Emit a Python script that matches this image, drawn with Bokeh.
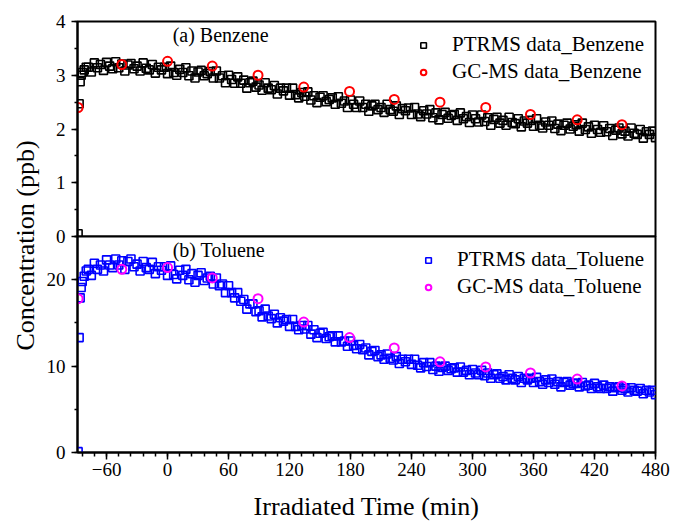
import math
from bokeh.plotting import figure
from bokeh.layouts import row, column
from bokeh.models import Label, SingleIntervalTicker, FixedTicker, Range1d
from bokeh.embed import file_html
from bokeh.resources import INLINE

FONT = "Liberation Serif"

# ---------------- data ----------------
# PTR-MS sampling times (min): a few fast samples at the start, then every 3 min
ptr_time = [-88, -87, -86, -85, -84, -82, -80] + list(range(-78, 481, 3))

ptr_benzene = [
    0.05, 2.47, 2.88, 3.00, 3.05, 3.10, 3.15,
    3.15, 3.06, 3.23, 3.14, 3.20, 3.09, 3.24, 3.17, 3.12, 3.25, 3.14, 3.21, 3.08, 3.19, 3.22, 3.12, 3.17, 3.08, 3.23, 3.13,
    3.10, 3.20, 3.04, 3.15, 3.10, 3.15, 3.03, 3.17, 3.05, 3.00, 3.11, 3.05, 3.14, 2.99, 3.08, 2.95, 3.06, 3.09, 2.99, 3.03,
    3.07, 2.95, 3.08, 2.95, 2.99, 2.86, 3.00, 2.92, 2.85, 2.97, 2.85, 2.91, 2.76, 2.86, 2.89, 2.78, 2.82, 2.72, 2.86, 2.76,
    2.73, 2.81, 2.65, 2.76, 2.71, 2.76, 2.63, 2.76, 2.64, 2.58, 2.68, 2.61, 2.69, 2.54, 2.62, 2.49, 2.59, 2.62, 2.51, 2.55,
    2.58, 2.46, 2.60, 2.48, 2.52, 2.40, 2.54, 2.46, 2.40, 2.52, 2.40, 2.46, 2.33, 2.43, 2.46, 2.36, 2.40, 2.31, 2.46, 2.36,
    2.33, 2.43, 2.27, 2.38, 2.34, 2.39, 2.27, 2.40, 2.28, 2.23, 2.34, 2.28, 2.36, 2.21, 2.30, 2.17, 2.27, 2.31, 2.20, 2.25,
    2.27, 2.16, 2.30, 2.19, 2.23, 2.12, 2.26, 2.19, 2.13, 2.26, 2.14, 2.21, 2.07, 2.18, 2.22, 2.11, 2.16, 2.07, 2.22, 2.12,
    2.10, 2.19, 2.04, 2.15, 2.11, 2.16, 2.05, 2.19, 2.07, 2.02, 2.13, 2.07, 2.15, 2.01, 2.09, 1.97, 2.07, 2.11, 2.00, 2.05,
    2.08, 1.96, 2.11, 1.99, 2.04, 1.92, 2.07, 1.99, 1.94, 2.06, 1.95, 2.01, 1.88, 1.98, 2.02, 1.91, 1.96, 1.87, 2.02, 1.92,
    1.90, 1.99, 1.83, 1.95, 1.90, 1.96, 1.84]

ptr_toluene = [
    0.1, 13.3, 17.9, 19.1, 19.8, 20.4, 21.0,
    21.2, 20.5, 21.9, 21.2, 21.7, 21.0, 22.3, 21.7, 21.4, 22.4, 21.7, 22.2, 21.2, 22.1, 22.4, 21.5, 21.8, 21.0, 22.1, 21.4,
    21.2, 22.0, 20.7, 21.5, 21.1, 21.5, 20.5, 21.6, 20.6, 20.1, 21.1, 20.5, 21.2, 20.0, 20.7, 19.7, 20.5, 20.8, 19.9, 20.2,
    20.4, 19.5, 20.2, 19.3, 19.5, 18.5, 19.3, 18.5, 17.9, 18.5, 17.5, 17.7, 16.6, 17.2, 17.2, 16.3, 16.4, 15.7, 16.6, 15.8,
    15.5, 16.0, 15.0, 15.6, 15.2, 15.4, 14.6, 15.4, 14.6, 14.2, 14.7, 14.3, 14.7, 13.7, 14.2, 13.3, 13.8, 13.9, 13.2, 13.4,
    13.5, 12.8, 13.5, 12.8, 12.9, 12.3, 12.9, 12.4, 12.0, 12.5, 11.9, 12.1, 11.3, 11.7, 11.8, 11.1, 11.3, 10.8, 11.4, 10.9,
    10.7, 11.1, 10.3, 10.8, 10.5, 10.8, 10.2, 10.8, 10.1, 9.8, 10.4, 9.95, 10.4, 9.6, 10.0, 9.4, 9.85, 10.0, 9.5, 9.7,
    9.8, 9.3, 9.9, 9.3, 9.5, 9.0, 9.6, 9.2, 9.0, 9.5, 8.9, 9.2, 8.6, 9.0, 9.1, 8.6, 8.8, 8.4, 9.0, 8.6,
    8.4, 8.8, 8.1, 8.6, 8.4, 8.6, 8.1, 8.7, 8.2, 7.9, 8.4, 8.1, 8.5, 7.9, 8.2, 7.6, 8.1, 8.2, 7.8, 8.0,
    8.0, 7.6, 8.1, 7.7, 7.8, 7.4, 8.0, 7.6, 7.4, 7.8, 7.4, 7.6, 7.1, 7.5, 7.6, 7.2, 7.4, 7.0, 7.5, 7.2,
    7.1, 7.4, 6.8, 7.2, 7.0, 7.2, 6.7]

gc_time = [-88, -45, 0, 44, 89, 134, 179, 223, 268, 313, 357, 403, 447]
gc_benzene = [2.40, 3.20, 3.26, 3.17, 3.00, 2.78, 2.70, 2.55, 2.50, 2.40, 2.27, 2.17, 2.08]
gc_toluene = [17.8, 21.2, 21.4, 20.2, 17.8, 15.1, 13.3, 12.1, 10.5, 9.9, 9.2, 8.5, 7.7]

x_label = "Irradiated Time (min)"
y_label = "Concentration (ppb)"

# ---------------- layout constants ----------------
LABEL_W = 40
BORDER_L = 37
FRAME_W = 578
X_RANGE = (-88.6, 480)
OVERLAP = 12


def style(p):
    p.outline_line_color = "black"
    p.outline_line_width = 2
    p.outline_line_alpha = 1
    p.grid.visible = False
    p.background_fill_color = "white"


def style_axis(ax, font_size="19px"):
    ax.axis_line_width = 2
    ax.axis_line_color = "black"
    ax.major_tick_line_width = 1.5
    ax.minor_tick_line_width = 1.5
    ax.major_tick_in = 0
    ax.minor_tick_in = 0
    ax.major_label_text_font = FONT
    ax.major_label_text_font_size = font_size
    ax.major_label_text_color = "black"
    ax.axis_label_text_font = FONT
    ax.axis_label_text_font_style = "normal"
    ax.axis_label_text_font_size = "26px"
    ax.axis_label_text_color = "black"


def style_legend(lg):
    lg.location = "top_right"
    lg.border_line_color = None
    lg.background_fill_alpha = 0
    lg.label_text_font = FONT
    lg.label_text_font_size = "21px"
    lg.label_text_color = "black"
    lg.glyph_width = 14
    lg.glyph_height = 14
    lg.label_standoff = 22
    lg.spacing = 2
    lg.padding = 0
    lg.margin = 11
    lg.label_height = 22


# ---------- top panel (benzene) ----------
p1 = figure(frame_width=FRAME_W, frame_height=215, min_border_left=BORDER_L, min_border_right=17,
            min_border_top=21, min_border_bottom=OVERLAP, x_axis_location=None,
            x_range=Range1d(*X_RANGE), y_range=Range1d(0, 4),
            toolbar_location=None, output_backend="svg")
style(p1)
p1.border_fill_color = "white"
p1.yaxis.ticker = SingleIntervalTicker(interval=1, num_minor_ticks=2)
style_axis(p1.yaxis[0])
p1.yaxis.major_tick_out = 6
p1.yaxis.minor_tick_out = 3
p1.yaxis.major_label_standoff = 6

p1.scatter(ptr_time, ptr_benzene, marker="square", size=8, fill_color=None,
           line_color="black", line_width=1.6, legend_label="PTRMS data_Benzene")
p1.scatter(gc_time, gc_benzene, marker="circle", size=9, fill_color=None,
           line_color="red", line_width=2, legend_label="GC-MS data_Benzene")
p1.add_layout(Label(x=5, y=3.74, text="(a) Benzene", text_font=FONT, text_font_size="20px",
                    text_baseline="middle", text_align="left", text_color="black"))
style_legend(p1.legend[0])

# ---------- bottom panel (toluene) ----------
p2 = figure(frame_width=FRAME_W, frame_height=216, min_border_left=BORDER_L, min_border_right=17,
            min_border_top=OVERLAP, min_border_bottom=73,
            x_range=p1.x_range, y_range=Range1d(0, 25),
            toolbar_location=None, output_backend="svg",
            margin=(-2 * OVERLAP, 0, 0, 0))
style(p2)
p2.border_fill_alpha = 0
p2.xaxis.ticker = SingleIntervalTicker(interval=60, num_minor_ticks=5)
p2.yaxis.ticker = SingleIntervalTicker(interval=10, num_minor_ticks=2)
style_axis(p2.xaxis[0])
style_axis(p2.yaxis[0])
p2.yaxis.major_tick_out = 6
p2.yaxis.minor_tick_out = 3
p2.yaxis.major_label_standoff = 6
p2.xaxis.major_tick_out = 7
p2.xaxis.minor_tick_out = 4
p2.xaxis.major_label_standoff = 3
p2.xaxis.axis_label = x_label
p2.xaxis.axis_label_standoff = 13

p2.scatter(ptr_time, ptr_toluene, marker="square", size=8, fill_color=None,
           line_color="blue", line_width=1.6, legend_label="PTRMS data_Toluene")
p2.scatter(gc_time, gc_toluene, marker="circle", size=9, fill_color=None,
           line_color="magenta", line_width=2, legend_label="GC-MS data_Toluene")
p2.add_layout(Label(x=5, y=23.4, text="(b) Toluene", text_font=FONT, text_font_size="20px",
                    text_baseline="middle", text_align="left", text_color="black"))
style_legend(p2.legend[0])

# ---------- shared y-axis title (its own thin plot, axis label only) ----------
pl = figure(frame_width=1, frame_height=490, min_border_left=LABEL_W - 1, min_border_right=0,
            min_border_top=0, min_border_bottom=35, x_axis_location=None,
            x_range=Range1d(0, 1), y_range=Range1d(0, 1),
            toolbar_location=None, output_backend="svg")
pl.outline_line_color = None
pl.grid.visible = False
pl.yaxis.ticker = FixedTicker(ticks=[])
pl.yaxis.axis_line_color = None
pl.yaxis.major_tick_line_color = None
pl.yaxis.minor_tick_line_color = None
pl.yaxis.axis_label = y_label
pl.yaxis.axis_label_standoff = 0
pl.yaxis.axis_label_text_font = FONT
pl.yaxis.axis_label_text_font_style = "normal"
pl.yaxis.axis_label_text_font_size = "26px"
pl.yaxis.axis_label_text_color = "black"

layout = row(pl, column(p1, p2, spacing=0), spacing=0)

open("out.html", "w").write(file_html(layout, INLINE))
